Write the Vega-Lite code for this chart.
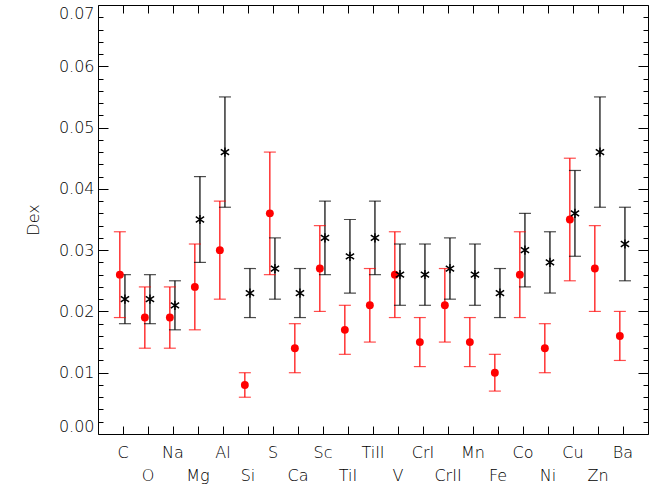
{
  "$schema": "https://vega.github.io/schema/vega-lite/v6.json",
  "width": 550,
  "height": 429,
  "autosize": {"type": "none"},
  "padding": {"left": 98, "top": 5, "right": 12, "bottom": 57},
  "background": "white",
  "config": {
    "view": {"stroke": "black", "strokeWidth": 1},
    "axis": {
      "labelFont": "DejaVu Sans", "labelFontSize": 16, "labelFontWeight": 200, "labelColor": "#000",
      "titleFont": "DejaVu Sans", "titleFontSize": 16, "titleFontWeight": 200, "titleColor": "#000",
      "tickColor": "#000", "tickWidth": 1, "domain": false, "grid": false
    }
  },
  "data": {"values": [
    {"el": "C", "set": "1", "v": 0.026, "lo": 0.019, "hi": 0.033},
    {"el": "C", "set": "2", "v": 0.022, "lo": 0.018, "hi": 0.026},
    {"el": "O", "set": "1", "v": 0.019, "lo": 0.014, "hi": 0.024},
    {"el": "O", "set": "2", "v": 0.022, "lo": 0.018, "hi": 0.026},
    {"el": "Na", "set": "1", "v": 0.019, "lo": 0.014, "hi": 0.024},
    {"el": "Na", "set": "2", "v": 0.021, "lo": 0.017, "hi": 0.025},
    {"el": "Mg", "set": "1", "v": 0.024, "lo": 0.017, "hi": 0.031},
    {"el": "Mg", "set": "2", "v": 0.035, "lo": 0.028, "hi": 0.042},
    {"el": "Al", "set": "1", "v": 0.030, "lo": 0.022, "hi": 0.038},
    {"el": "Al", "set": "2", "v": 0.046, "lo": 0.037, "hi": 0.055},
    {"el": "Si", "set": "1", "v": 0.008, "lo": 0.006, "hi": 0.010},
    {"el": "Si", "set": "2", "v": 0.023, "lo": 0.019, "hi": 0.027},
    {"el": "S", "set": "1", "v": 0.036, "lo": 0.026, "hi": 0.046},
    {"el": "S", "set": "2", "v": 0.027, "lo": 0.022, "hi": 0.032},
    {"el": "Ca", "set": "1", "v": 0.014, "lo": 0.010, "hi": 0.018},
    {"el": "Ca", "set": "2", "v": 0.023, "lo": 0.019, "hi": 0.027},
    {"el": "Sc", "set": "1", "v": 0.027, "lo": 0.020, "hi": 0.034},
    {"el": "Sc", "set": "2", "v": 0.032, "lo": 0.026, "hi": 0.038},
    {"el": "TiI", "set": "1", "v": 0.017, "lo": 0.013, "hi": 0.021},
    {"el": "TiI", "set": "2", "v": 0.029, "lo": 0.023, "hi": 0.035},
    {"el": "TiII", "set": "1", "v": 0.021, "lo": 0.015, "hi": 0.027},
    {"el": "TiII", "set": "2", "v": 0.032, "lo": 0.026, "hi": 0.038},
    {"el": "V", "set": "1", "v": 0.026, "lo": 0.019, "hi": 0.033},
    {"el": "V", "set": "2", "v": 0.026, "lo": 0.021, "hi": 0.031},
    {"el": "CrI", "set": "1", "v": 0.015, "lo": 0.011, "hi": 0.019},
    {"el": "CrI", "set": "2", "v": 0.026, "lo": 0.021, "hi": 0.031},
    {"el": "CrII", "set": "1", "v": 0.021, "lo": 0.015, "hi": 0.027},
    {"el": "CrII", "set": "2", "v": 0.027, "lo": 0.022, "hi": 0.032},
    {"el": "Mn", "set": "1", "v": 0.015, "lo": 0.011, "hi": 0.019},
    {"el": "Mn", "set": "2", "v": 0.026, "lo": 0.021, "hi": 0.031},
    {"el": "Fe", "set": "1", "v": 0.010, "lo": 0.007, "hi": 0.013},
    {"el": "Fe", "set": "2", "v": 0.023, "lo": 0.019, "hi": 0.027},
    {"el": "Co", "set": "1", "v": 0.026, "lo": 0.019, "hi": 0.033},
    {"el": "Co", "set": "2", "v": 0.030, "lo": 0.024, "hi": 0.036},
    {"el": "Ni", "set": "1", "v": 0.014, "lo": 0.010, "hi": 0.018},
    {"el": "Ni", "set": "2", "v": 0.028, "lo": 0.023, "hi": 0.033},
    {"el": "Cu", "set": "1", "v": 0.035, "lo": 0.025, "hi": 0.045},
    {"el": "Cu", "set": "2", "v": 0.036, "lo": 0.029, "hi": 0.043},
    {"el": "Zn", "set": "1", "v": 0.027, "lo": 0.020, "hi": 0.034},
    {"el": "Zn", "set": "2", "v": 0.046, "lo": 0.037, "hi": 0.055},
    {"el": "Ba", "set": "1", "v": 0.016, "lo": 0.012, "hi": 0.020},
    {"el": "Ba", "set": "2", "v": 0.031, "lo": 0.025, "hi": 0.037}
  ]},
  "layer": [
    {
      "encoding": {
        "x": {"field": "el", "type": "nominal", "axis": null,
              "scale": {"domain": ["C","O","Na","Mg","Al","Si","S","Ca","Sc","TiI","TiII","V","CrI","CrII","Mn","Fe","Co","Ni","Cu","Zn","Ba"], "paddingInner": 0, "paddingOuter": 0.5}},
        "xOffset": {"field": "set", "type": "nominal", "scale": {"type": "point", "domain": ["1","2"], "range": [6.8, 17.0]}},
        "color": {"field": "set", "type": "nominal", "scale": {"domain": ["1","2"], "range": ["#ff0000", "#000000"]}, "legend": null}
      },
      "layer": [
        {"mark": {"type": "rule", "strokeWidth": 1.2},
         "encoding": {"y": {"field": "lo", "type": "quantitative", "axis": null, "scale": {"domain": [0, 0.07], "nice": false}}, "y2": {"field": "hi"}}},
        {"mark": {"type": "tick", "size": 12, "thickness": 1.2},
         "encoding": {"y": {"field": "lo", "type": "quantitative", "axis": null}}},
        {"mark": {"type": "tick", "size": 12, "thickness": 1.2},
         "encoding": {"y": {"field": "hi", "type": "quantitative", "axis": null}}},
        {"transform": [{"filter": "datum.set == '1'"}],
         "mark": {"type": "point", "shape": "circle", "filled": true, "size": 62, "opacity": 1},
         "encoding": {"y": {"field": "v", "type": "quantitative", "axis": null}}},
        {"transform": [{"filter": "datum.set == '2'"}],
         "mark": {"type": "point", "shape": "M0,-1L0,1M-0.9,-0.6L0.9,0.6M-0.9,0.6L0.9,-0.6", "filled": false, "size": 85, "strokeWidth": 1.5, "opacity": 1},
         "encoding": {"y": {"field": "v", "type": "quantitative", "axis": null}}}
      ]
    },
    {
      "mark": {"type": "point", "opacity": 0},
      "encoding": {
        "x": {"field": "el", "type": "nominal",
              "axis": {"orient": "bottom", "title": null, "labelAngle": 0, "ticks": false,
                       "labelPadding": {"condition": {"test": "indexof(['O','Mg','Si','Ca','TiI','V','CrII','Fe','Ni','Zn'], datum.value) >= 0", "value": 33}, "value": 10}}},
        "y": {"field": "v", "type": "quantitative",
              "axis": {"orient": "left", "title": "Dex", "titlePadding": 17, "labelFlush": true, "labelPadding": 4, "ticks": false,
                       "values": [0,0.01,0.02,0.03,0.04,0.05,0.06,0.07], "format": ".2f"}}
      }
    },
    {
      "mark": {"type": "point", "opacity": 0},
      "encoding": {
        "x": {"field": "el", "type": "nominal",
              "axis": {"orient": "top", "offset": -429, "title": null, "labels": false, "tickSize": 8}},
        "y": {"field": "v", "type": "quantitative",
              "axis": {"orient": "right", "offset": -550, "title": null, "labels": false,
                       "values": [0,0.002,0.004,0.006,0.008,0.01,0.012,0.014,0.016,0.018,0.02,0.022,0.024,0.026,0.028,0.03,0.032,0.034,0.036,0.038,0.04,0.042,0.044,0.046,0.048,0.05,0.052,0.054,0.056,0.058,0.06,0.062,0.064,0.066,0.068,0.07],
                       "tickSize": {"condition": {"test": "round(datum.value*1000) % 10 == 0", "value": 10}, "value": 5}}}
      }
    },
    {
      "mark": {"type": "point", "opacity": 0},
      "encoding": {
        "x": {"field": "el", "type": "nominal",
              "axis": {"orient": "bottom", "offset": -429, "title": null, "labels": false, "tickSize": 8}},
        "y": {"field": "v", "type": "quantitative",
              "axis": {"orient": "left", "offset": -550, "title": null, "labels": false,
                       "values": [0,0.002,0.004,0.006,0.008,0.01,0.012,0.014,0.016,0.018,0.02,0.022,0.024,0.026,0.028,0.03,0.032,0.034,0.036,0.038,0.04,0.042,0.044,0.046,0.048,0.05,0.052,0.054,0.056,0.058,0.06,0.062,0.064,0.066,0.068,0.07],
                       "tickSize": {"condition": {"test": "round(datum.value*1000) % 10 == 0", "value": 10}, "value": 5}}}
      }
    }
  ],
  "resolve": {"axis": {"x": "independent", "y": "independent"}}
}
